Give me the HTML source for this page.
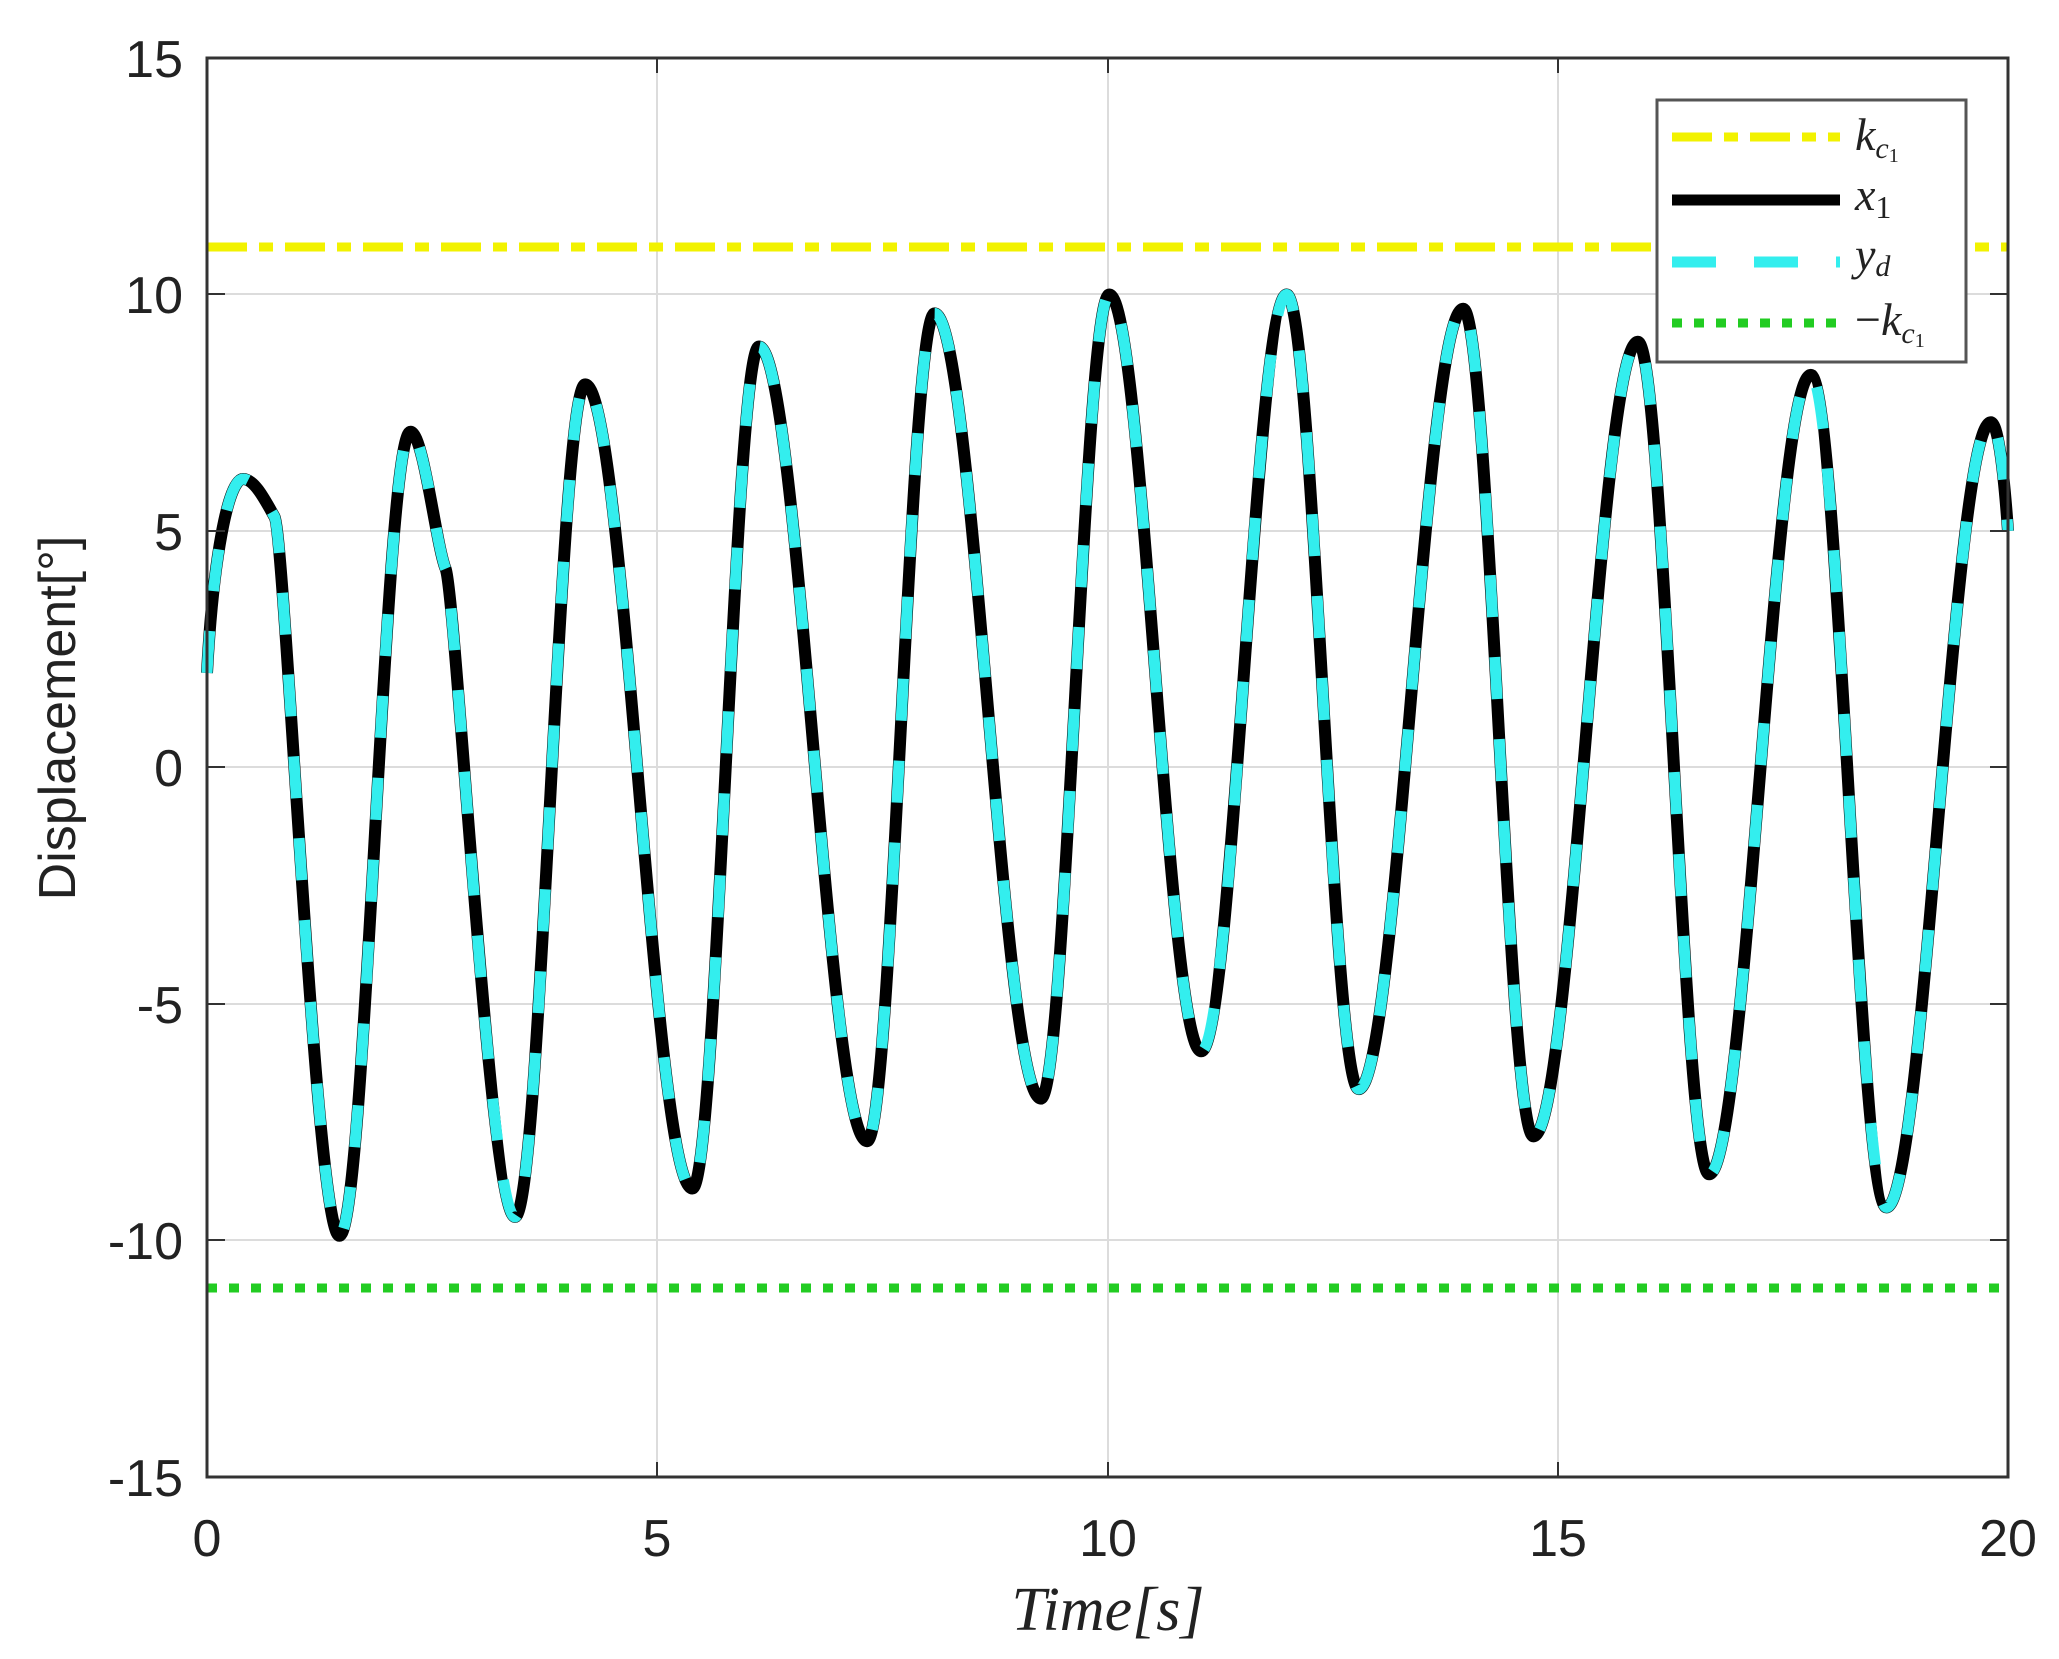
<!DOCTYPE html>
<html><head><meta charset="utf-8"><style>
html,body{margin:0;padding:0;background:#fff;}
svg{display:block;}
</style></head><body>
<svg width="2059" height="1659" viewBox="0 0 2059 1659" xmlns="http://www.w3.org/2000/svg">
<defs><path id="c" d="M207 672.9 C213 560 228 479 243 479 C254.5 479 265 500 274.5 516.8 C285 535 315.8 1235.8 339.4 1235.8 C365.3 1235.8 384.6 431.7 410.5 431.7 C423.3 431.7 436 545 445.6 568.8 C456 594 489.7 1216.9 515 1216.9 C540.6 1216.9 559.6 384.4 585.2 384.4 C624.2 384.4 653.4 1188.5 692.4 1188.5 C716.6 1188.5 734.8 346.5 759 346.5 C798.3 346.5 827.8 1141.2 867.1 1141.2 C891.7 1141.2 910 313.4 934.6 313.4 C973.3 313.4 1002.2 1098.6 1040.9 1098.6 C1065.8 1098.6 1084.4 294.5 1109.3 294.5 C1142.8 294.5 1167.7 1051.3 1201.2 1051.3 C1232.3 1051.3 1255.6 294.5 1286.7 294.5 C1312.9 294.5 1332.5 1089.1 1358.7 1089.1 C1396.7 1089.1 1425.2 308.7 1463.2 308.7 C1488.8 308.7 1507.9 1136.4 1533.5 1136.4 C1571.5 1136.4 1599.9 341.8 1637.9 341.8 C1663.8 341.8 1683.2 1174.3 1709.1 1174.3 C1746.1 1174.3 1773.8 374.9 1810.8 374.9 C1838.3 374.9 1858.9 1207.4 1886.4 1207.4 C1924.4 1207.4 1952.9 422.2 1990.9 422.2 C1997 422.2 2003 460 2008 531"/></defs>
<rect width="2059" height="1659" fill="#fff"/>
<g stroke="#dcdcdc" stroke-width="2">
<line x1="657" y1="58" x2="657" y2="1477"/>
<line x1="1108" y1="58" x2="1108" y2="1477"/>
<line x1="1558" y1="58" x2="1558" y2="1477"/>
<line x1="207" y1="294" x2="2008" y2="294"/>
<line x1="207" y1="531" x2="2008" y2="531"/>
<line x1="207" y1="767" x2="2008" y2="767"/>
<line x1="207" y1="1004" x2="2008" y2="1004"/>
<line x1="207" y1="1240" x2="2008" y2="1240"/>
</g>
<line x1="207" y1="247" x2="2008" y2="247" stroke="#f2f200" stroke-width="9" stroke-dasharray="40 12 14 12"/>
<line x1="207" y1="1288" x2="2008" y2="1288" stroke="#22cc22" stroke-width="9" stroke-dasharray="10 12"/>
<use href="#c" fill="none" stroke="#000" stroke-width="12" stroke-linejoin="round"/>
<use href="#c" fill="none" stroke="#33eeee" stroke-width="11" stroke-dasharray="42 40"/>
<rect x="207" y="58" width="1801" height="1419" fill="none" stroke="#333" stroke-width="3"/>
<g stroke="#333" stroke-width="2">
<line x1="657" y1="1477" x2="657" y2="1462"/><line x1="1108" y1="1477" x2="1108" y2="1462"/><line x1="1558" y1="1477" x2="1558" y2="1462"/>
<line x1="657" y1="58" x2="657" y2="73"/><line x1="1108" y1="58" x2="1108" y2="73"/><line x1="1558" y1="58" x2="1558" y2="73"/>
<line x1="207" y1="294" x2="225" y2="294"/><line x1="207" y1="531" x2="225" y2="531"/><line x1="207" y1="767" x2="225" y2="767"/><line x1="207" y1="1004" x2="225" y2="1004"/><line x1="207" y1="1240" x2="225" y2="1240"/>
<line x1="2008" y1="294" x2="1990" y2="294"/><line x1="2008" y1="531" x2="1990" y2="531"/><line x1="2008" y1="767" x2="1990" y2="767"/><line x1="2008" y1="1004" x2="1990" y2="1004"/><line x1="2008" y1="1240" x2="1990" y2="1240"/>
</g>
<g font-family="Liberation Sans, sans-serif" font-size="52" fill="#222" text-anchor="end">
<text x="183" y="77">15</text><text x="183" y="313">10</text><text x="183" y="550">5</text><text x="183" y="786">0</text>
<text x="183" y="1023">-5</text><text x="183" y="1259">-10</text><text x="183" y="1496">-15</text>
</g>
<g font-family="Liberation Sans, sans-serif" font-size="52" fill="#222" text-anchor="middle">
<text x="207" y="1556">0</text><text x="657" y="1556">5</text><text x="1108" y="1556">10</text><text x="1558" y="1556">15</text><text x="2008" y="1556">20</text>
</g>
<text x="1108" y="1630" font-family="Liberation Serif, serif" font-style="italic" font-size="62" fill="#222" text-anchor="middle">Time[s]</text>
<text transform="translate(75,718) rotate(-90)" font-family="Liberation Sans, sans-serif" font-size="52" fill="#222" text-anchor="middle">Displacement[°]</text>
<rect x="1657" y="100" width="309" height="262" fill="#fff" stroke="#555" stroke-width="3"/>
<line x1="1672" y1="137" x2="1840" y2="137" stroke="#f2f200" stroke-width="9" stroke-dasharray="40 12 14 12"/>
<line x1="1672" y1="200" x2="1840" y2="200" stroke="#000" stroke-width="11"/>
<line x1="1672" y1="262" x2="1840" y2="262" stroke="#33eeee" stroke-width="11" stroke-dasharray="44 38"/>
<line x1="1672" y1="323" x2="1840" y2="323" stroke="#22cc22" stroke-width="9" stroke-dasharray="10 12"/>
<g font-family="Liberation Serif, serif" font-style="italic" font-size="46" fill="#222">
<text x="1855" y="150">k<tspan font-size="30" dy="8">c</tspan><tspan font-size="20" dy="4" font-style="normal">1</tspan></text>
<text x="1855" y="210">x<tspan font-size="32" dy="8" font-style="normal">1</tspan></text>
<text x="1855" y="270">y<tspan font-size="30" dy="6">d</tspan></text>
<text x="1855" y="335"><tspan font-style="normal">−</tspan>k<tspan font-size="30" dy="8">c</tspan><tspan font-size="20" dy="4" font-style="normal">1</tspan></text>
</g>
</svg>
</body></html>
